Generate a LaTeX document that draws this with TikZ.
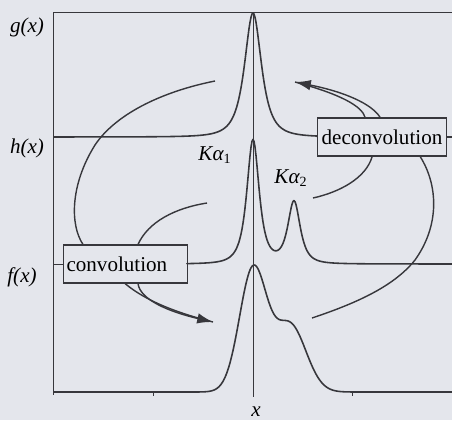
\documentclass[tikz,border=0pt]{standalone}
\usepackage{fontspec}
\setmainfont{Liberation Serif}
\usetikzlibrary{positioning, arrows.meta, calc}

\definecolor{paper}{RGB}{228,230,236}
\definecolor{ink}{RGB}{55,55,60}

\begin{document}
\begin{tikzpicture}[x=0.02cm, y=-0.02cm]
	\tikzset{
		spectrum/.style={ink, line width=0.9pt, line join=round},
		conn/.style={ink, line width=0.8pt},
		axis/.style={ink, line width=0.5pt},
		opbox/.style={draw=ink, line width=0.6pt, fill=paper, minimum height=0.76cm, inner sep=0pt, font=\fontsize{12}{14}\selectfont},
		fname/.style={font=\fontsize{12}{14}\selectfont\itshape, inner sep=0pt}
	}
	\fill[paper] (0,0) rectangle (452,420);
	\useasboundingbox (0,0) rectangle (452,420);
	
	% 框
	\node[opbox, inner xsep=0.08cm] (deconv) at (382,137) {deconvolution};
	\node[opbox, anchor=west, text width=2.36cm, inner xsep=0.06cm, align=left] (conv) at (63,264) {convolution};
	
	% 标签
	\node[fname] (gl) at (27,27) {g(x)};
	\node[fname] (hl) at (27,148) {h(x)};
	\node[fname] (fl) at (22,277) {f(x)};
	\node[fname] (xl) at (256,412) {x};
	\node[fname] (ka1) at (215,155) {Kα\textsubscript{\upshape 1}};
	\node[fname] (ka2) at (291,178) {Kα\textsubscript{\upshape 2}};
	
	% 坐标轴
	\draw[axis] (53,12) -- (452,12);
	\draw[axis] (53,12) -- (53,395);
	\draw[axis] (253,12) -- (253,397);
	\foreach \t in {153,352}
		\draw[axis] (\t,392) -- (\t,396);
	\draw[axis] (53,264) -- (conv.west);
	\draw[spectrum] (deconv.east) -- (452,137);
	
	% 曲线 g, h, f
	\draw[spectrum] plot[domain=53:317, samples=265] (\x, {137-124/(1+((\x-253)/13)^2)^1.5}) -- (deconv.west);
	\draw[spectrum] (conv.east) -- plot[domain=187:452, samples=266]
		(\x, {264-124*(1/(1+((\x-253)/9.5)^2)^1.5+0.5/(1+((\x-294)/9.5)^2)^1.5)});
	\draw[spectrum] plot[domain=53:452, samples=400]
		(\x, {392-122*(exp(-min(30,0.5*((\x-253)/13.6)^2))+0.55*exp(-min(30,0.5*((\x-290)/16)^2)))});
	
	% 端点
	\coordinate (gEnd) at (215,81);
	\coordinate (kaEnd1) at (207,203);
	\coordinate (kaEnd2) at (313,198);
	\coordinate (fEnd) at (312,318);
	\coordinate (fTip) at (213,322);
	\coordinate (gTip) at (295,82);
	\coordinate (cIn1) at ($(conv.north west)+(20,0)$);
	\coordinate (cIn2) at ($(conv.north west)+(75,0)$);
	\coordinate (cOut1) at ($(conv.south west)+(62,0)$);
	\coordinate (cOut2) at ($(conv.south west)+(75,0)$);
	\coordinate (dIn1) at ($(deconv.south west)+(55,0)$);
	\coordinate (dIn2) at ($(deconv.south west)+(103,0)$);
	\coordinate (dOut1) at ($(deconv.north west)+(48,0)$);
	\coordinate (dOut2) at ($(deconv.north west)+(63,0)$);
	
	% 卷积
	\draw[conn] (gEnd) .. controls (160,92) and (115,115) .. (95,145) .. controls (70,185) and (70,225) .. (cIn1);
	\draw[conn] (kaEnd1) .. controls (175,208) and (148,222) .. (cIn2);
	\draw[conn] (cOut1) .. controls (140,296) and (165,310) .. (fTip);
	\draw[conn, -{Latex[length=9pt, width=6pt]}] (cOut2) .. controls (140,300) and (170,312) .. (fTip);
	
	% 反卷积
	\draw[conn] (kaEnd2) .. controls (340,192) and (366,178) .. (dIn1);
	\draw[conn] (fEnd) .. controls (360,302) and (395,285) .. (415,260) .. controls (440,225) and (438,185) .. (dIn2);
	\draw[conn] (dOut1) .. controls (362,106) and (340,94) .. (gTip);
	\draw[conn, -{Latex[length=9pt, width=6pt]}] (dOut2) .. controls (372,104) and (345,92) .. (gTip);
\end{tikzpicture}
\end{document}
